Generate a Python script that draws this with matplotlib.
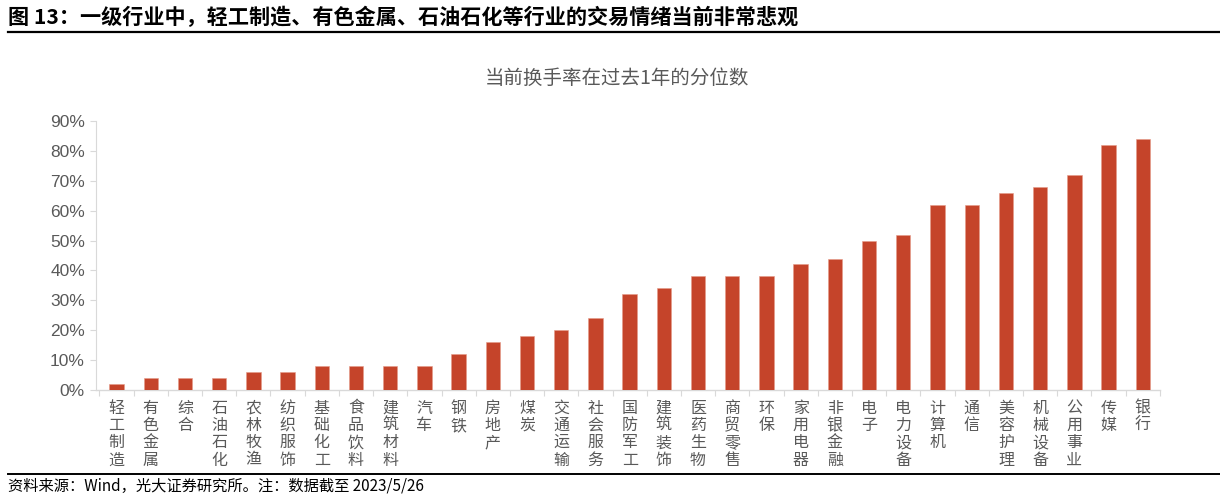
import matplotlib
matplotlib.use("Agg")
import matplotlib.pyplot as plt
from matplotlib.ticker import FuncFormatter, FixedLocator
import numpy as np

plt.rcParams['font.family'] = ['Noto Sans CJK SC', 'DejaVu Sans']

categories = ["轻工制造", "有色金属", "综合", "石油石化", "农林牧渔", "纺织服饰", "基础化工", "食品饮料",
              "建筑材料", "汽车", "钢铁", "房地产", "煤炭", "交通运输", "社会服务", "国防军工",
              "建筑装饰", "医药生物", "商贸零售", "环保", "家用电器", "非银金融", "电子", "电力设备",
              "计算机", "通信", "美容护理", "机械设备", "公用事业", "传媒", "银行"]
values = [2, 4, 4, 4, 6, 6, 8, 8, 8, 8, 12, 16, 18, 20, 24, 32,
          34, 38, 38, 38, 42, 44, 50, 52, 62, 62, 66, 68, 72, 82, 84]
values = [v / 100 for v in values]

fig = plt.figure(figsize=(12.2, 4.99), dpi=100)
ax = fig.add_axes([0.0787, 0.2184, 0.872, 0.5391])

x = np.arange(len(categories))
ax.bar(x, values, width=0.42, color='#C5442A', edgecolor='#E59A88', linewidth=0.4, zorder=3)

ax.set_xlim(-0.6, len(categories) - 0.5)
ax.set_ylim(0, 0.9)
ax.set_yticks(np.arange(0, 0.91, 0.1))
ax.yaxis.set_major_formatter(FuncFormatter(lambda v, p: f"{int(round(v*100))}%"))
for lab in ax.get_yticklabels():
    lab.set_family(['Liberation Sans'])
ax.tick_params(axis='y', labelsize=12.5, colors='#D9D9D9', labelcolor='#595959', length=4, width=0.8, pad=4)

ax.set_xticks(x)
ax.set_xticklabels(["\n".join(c) for c in categories], fontsize=11.5, color='#595959', linespacing=1.02)
ax.tick_params(axis='x', length=0, pad=7)
ax.xaxis.set_minor_locator(FixedLocator(np.arange(-0.5, len(categories), 1.0)))
ax.tick_params(axis='x', which='minor', length=4, width=0.8, colors='#D9D9D9')

for s in ['top', 'right']:
    ax.spines[s].set_visible(False)
ax.spines['left'].set_color('#D9D9D9')
ax.spines['bottom'].set_color('#D9D9D9')
ax.spines['left'].set_linewidth(0.8)
ax.spines['bottom'].set_linewidth(1.0)

fig.text(0.506, 1 - 78 / 499, "当前换手率在过去1年的分位数", ha='center', va='center', fontsize=14, color='#595959')

fig.text(8 / 1220, 1 - 17 / 499, "图 13：一级行业中，轻工制造、有色金属、石油石化等行业的交易情绪当前非常悲观",
         ha='left', va='center', fontsize=15.2, fontweight='bold', color='black')
fig.add_artist(plt.Line2D([8 / 1220, 1.0], [1 - 32 / 499, 1 - 32 / 499], color='black', linewidth=1.6))
fig.add_artist(plt.Line2D([8 / 1220, 1.0], [1 - 474 / 499, 1 - 474 / 499], color='black', linewidth=1.4))
fig.text(8 / 1220, 1 - 486 / 499, "资料来源：Wind，光大证券研究所。注：数据截至 2023/5/26",
         ha='left', va='center', fontsize=11, color='black')

fig.savefig("out.png", dpi=100)
